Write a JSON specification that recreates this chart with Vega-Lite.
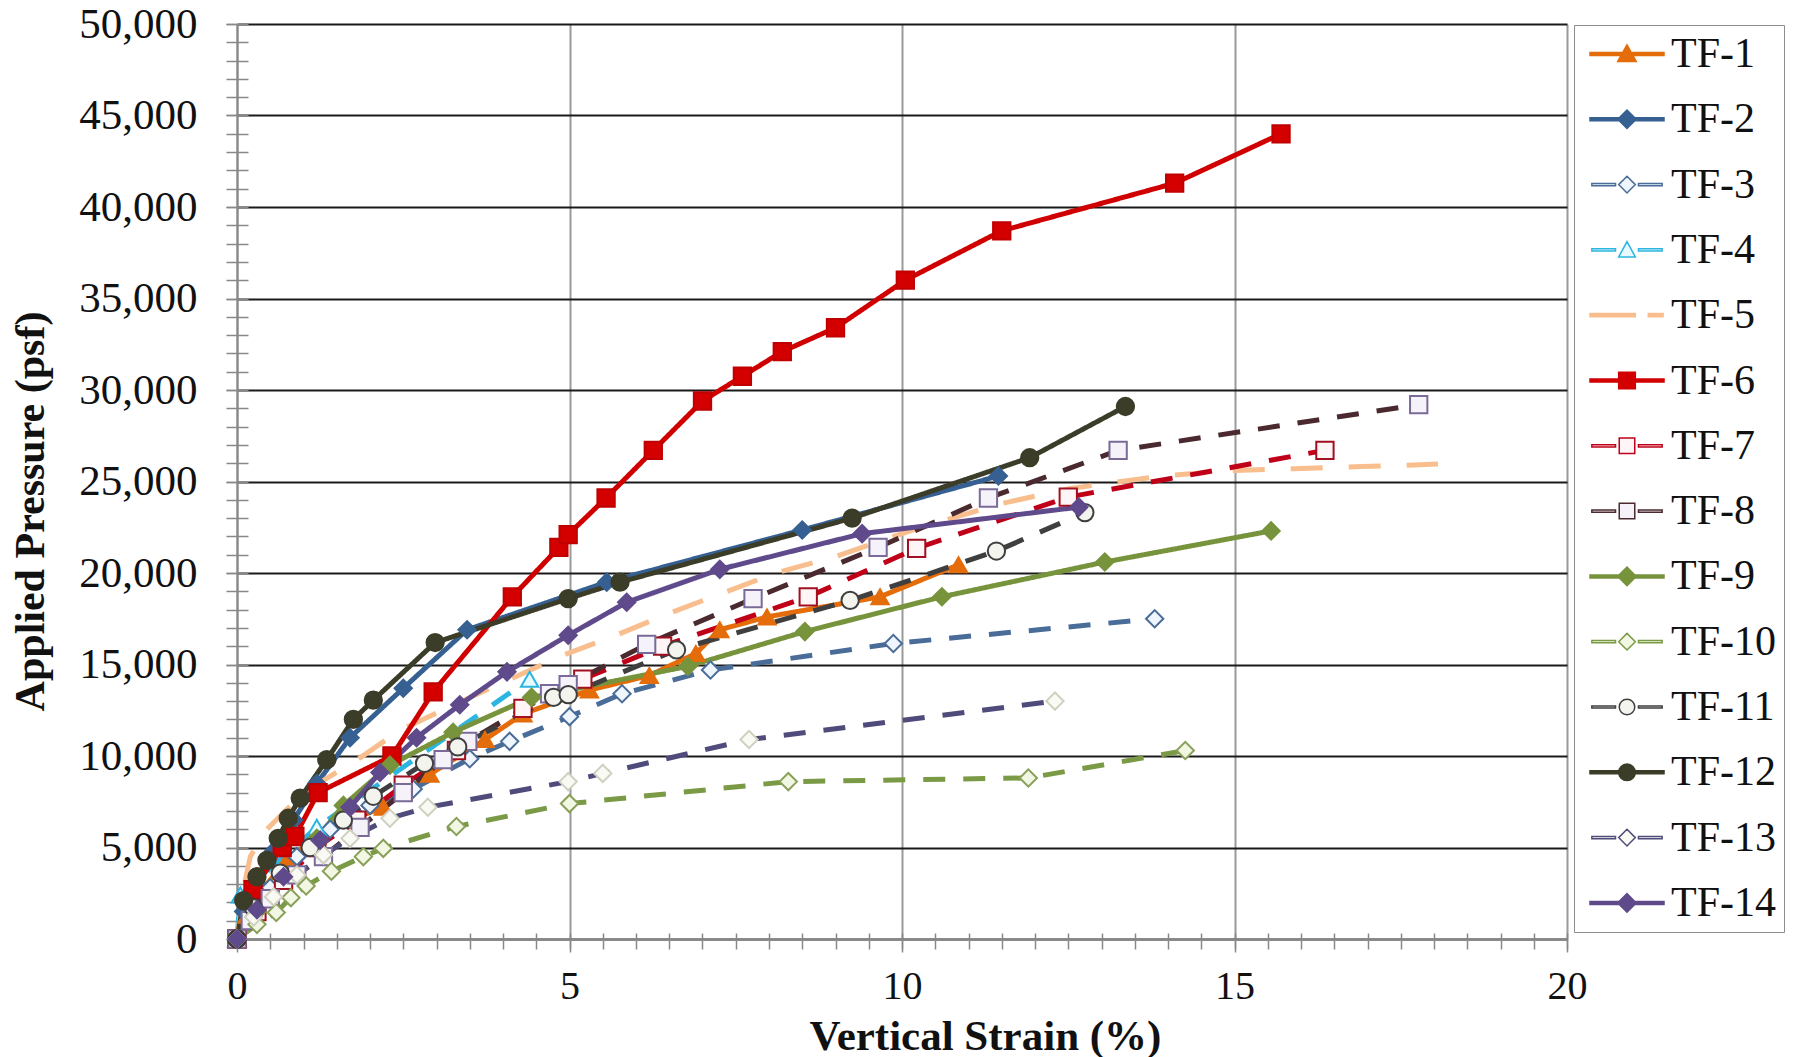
{
  "$schema": "https://vega.github.io/schema/vega-lite/v6.json",
  "width": 1330,
  "height": 915,
  "autosize": {"type": "none"},
  "padding": {"left": 237, "top": 24, "right": 237, "bottom": 118},
  "background": "white",
  "data": {"values": [
    {"series":"TF-1","strain":0,"pressure":0},{"series":"TF-1","strain":0.15,"pressure":1300},{"series":"TF-1","strain":0.4,"pressure":2800},{"series":"TF-1","strain":0.75,"pressure":4300},{"series":"TF-1","strain":1.2,"pressure":5600},{"series":"TF-1","strain":1.7,"pressure":6500},{"series":"TF-1","strain":2.2,"pressure":7200},{"series":"TF-1","strain":2.9,"pressure":9000},{"series":"TF-1","strain":3.73,"pressure":10900},{"series":"TF-1","strain":4.3,"pressure":12300},{"series":"TF-1","strain":5.3,"pressure":13600},{"series":"TF-1","strain":6.2,"pressure":14400},{"series":"TF-1","strain":6.9,"pressure":15600},{"series":"TF-1","strain":7.26,"pressure":16900},{"series":"TF-1","strain":7.97,"pressure":17600},{"series":"TF-1","strain":9.67,"pressure":18700},{"series":"TF-1","strain":10.85,"pressure":20450},
    {"series":"TF-2","strain":0,"pressure":0},{"series":"TF-2","strain":0.1,"pressure":1500},{"series":"TF-2","strain":0.3,"pressure":3000},{"series":"TF-2","strain":0.55,"pressure":4800},{"series":"TF-2","strain":0.85,"pressure":6500},{"series":"TF-2","strain":1.2,"pressure":8500},{"series":"TF-2","strain":1.7,"pressure":11000},{"series":"TF-2","strain":2.5,"pressure":13700},{"series":"TF-2","strain":3.46,"pressure":16900},{"series":"TF-2","strain":5.56,"pressure":19500},{"series":"TF-2","strain":8.5,"pressure":22350},{"series":"TF-2","strain":11.45,"pressure":25300},
    {"series":"TF-3","strain":0,"pressure":0},{"series":"TF-3","strain":0.2,"pressure":1300},{"series":"TF-3","strain":0.5,"pressure":2800},{"series":"TF-3","strain":0.9,"pressure":4500},{"series":"TF-3","strain":1.4,"pressure":6000},{"series":"TF-3","strain":2.0,"pressure":7300},{"series":"TF-3","strain":2.65,"pressure":8200},{"series":"TF-3","strain":3.5,"pressure":9850},{"series":"TF-3","strain":4.1,"pressure":10800},{"series":"TF-3","strain":5.0,"pressure":12150},{"series":"TF-3","strain":5.79,"pressure":13400},{"series":"TF-3","strain":7.12,"pressure":14700},{"series":"TF-3","strain":9.87,"pressure":16150},{"series":"TF-3","strain":13.8,"pressure":17500},
    {"series":"TF-4","strain":0,"pressure":0},{"series":"TF-4","strain":0.05,"pressure":2400},{"series":"TF-4","strain":1.2,"pressure":6100},{"series":"TF-4","strain":4.4,"pressure":14200},
    {"series":"TF-5","strain":0,"pressure":0},{"series":"TF-5","strain":0.1,"pressure":2800},{"series":"TF-5","strain":0.2,"pressure":4500},{"series":"TF-5","strain":0.45,"pressure":6000},{"series":"TF-5","strain":1.0,"pressure":8000},{"series":"TF-5","strain":1.85,"pressure":9900},{"series":"TF-5","strain":2.45,"pressure":11400},{"series":"TF-5","strain":3.5,"pressure":13200},{"series":"TF-5","strain":4.9,"pressure":15500},{"series":"TF-5","strain":5.7,"pressure":16600},{"series":"TF-5","strain":6.5,"pressure":17800},{"series":"TF-5","strain":7.3,"pressure":18900},{"series":"TF-5","strain":8.1,"pressure":20000},{"series":"TF-5","strain":9.0,"pressure":20900},{"series":"TF-5","strain":10.2,"pressure":22400},{"series":"TF-5","strain":11.5,"pressure":23800},{"series":"TF-5","strain":12.5,"pressure":24600},{"series":"TF-5","strain":13.9,"pressure":25300},{"series":"TF-5","strain":15.0,"pressure":25600},{"series":"TF-5","strain":15.9,"pressure":25700},{"series":"TF-5","strain":16.8,"pressure":25800},{"series":"TF-5","strain":17.7,"pressure":25900},{"series":"TF-5","strain":18.06,"pressure":25950},
    {"series":"TF-6","strain":0,"pressure":0},{"series":"TF-6","strain":0.24,"pressure":2700},{"series":"TF-6","strain":0.68,"pressure":5000},{"series":"TF-6","strain":0.87,"pressure":5600},{"series":"TF-6","strain":1.22,"pressure":8000},{"series":"TF-6","strain":2.33,"pressure":10000},{"series":"TF-6","strain":2.95,"pressure":13500},{"series":"TF-6","strain":4.14,"pressure":18700},{"series":"TF-6","strain":4.84,"pressure":21400},{"series":"TF-6","strain":4.98,"pressure":22100},{"series":"TF-6","strain":5.55,"pressure":24100},{"series":"TF-6","strain":6.26,"pressure":26700},{"series":"TF-6","strain":7.0,"pressure":29400},{"series":"TF-6","strain":7.6,"pressure":30750},{"series":"TF-6","strain":8.2,"pressure":32100},{"series":"TF-6","strain":9.0,"pressure":33400},{"series":"TF-6","strain":10.05,"pressure":36000},{"series":"TF-6","strain":11.5,"pressure":38700},{"series":"TF-6","strain":14.1,"pressure":41300},{"series":"TF-6","strain":15.7,"pressure":44000},
    {"series":"TF-7","strain":0,"pressure":0},{"series":"TF-7","strain":0.3,"pressure":1500},{"series":"TF-7","strain":0.7,"pressure":3200},{"series":"TF-7","strain":1.2,"pressure":5000},{"series":"TF-7","strain":1.8,"pressure":6500},{"series":"TF-7","strain":2.5,"pressure":8400},{"series":"TF-7","strain":3.3,"pressure":10300},{"series":"TF-7","strain":4.3,"pressure":12600},{"series":"TF-7","strain":5.2,"pressure":14200},{"series":"TF-7","strain":6.4,"pressure":16000},{"series":"TF-7","strain":8.59,"pressure":18700},{"series":"TF-7","strain":10.22,"pressure":21350},{"series":"TF-7","strain":12.5,"pressure":24150},{"series":"TF-7","strain":16.36,"pressure":26700},
    {"series":"TF-8","strain":0,"pressure":0},{"series":"TF-8","strain":0.2,"pressure":1000},{"series":"TF-8","strain":0.5,"pressure":2200},{"series":"TF-8","strain":0.9,"pressure":3500},{"series":"TF-8","strain":1.3,"pressure":4500},{"series":"TF-8","strain":1.85,"pressure":6100},{"series":"TF-8","strain":2.5,"pressure":8000},{"series":"TF-8","strain":3.1,"pressure":9800},{"series":"TF-8","strain":3.47,"pressure":10800},{"series":"TF-8","strain":4.7,"pressure":13400},{"series":"TF-8","strain":4.98,"pressure":13900},{"series":"TF-8","strain":6.16,"pressure":16100},{"series":"TF-8","strain":7.76,"pressure":18600},{"series":"TF-8","strain":9.64,"pressure":21400},{"series":"TF-8","strain":11.3,"pressure":24100},{"series":"TF-8","strain":13.25,"pressure":26700},{"series":"TF-8","strain":17.77,"pressure":29200},
    {"series":"TF-9","strain":0,"pressure":0},{"series":"TF-9","strain":0.3,"pressure":1500},{"series":"TF-9","strain":0.7,"pressure":3500},{"series":"TF-9","strain":1.2,"pressure":5500},{"series":"TF-9","strain":1.6,"pressure":7300},{"series":"TF-9","strain":2.3,"pressure":9500},{"series":"TF-9","strain":3.25,"pressure":11300},{"series":"TF-9","strain":4.43,"pressure":13200},{"series":"TF-9","strain":6.78,"pressure":14900},{"series":"TF-9","strain":8.54,"pressure":16800},{"series":"TF-9","strain":10.6,"pressure":18700},{"series":"TF-9","strain":13.05,"pressure":20600},{"series":"TF-9","strain":15.55,"pressure":22300},
    {"series":"TF-10","strain":0,"pressure":0},{"series":"TF-10","strain":0.3,"pressure":800},{"series":"TF-10","strain":0.59,"pressure":1450},{"series":"TF-10","strain":0.81,"pressure":2260},{"series":"TF-10","strain":1.04,"pressure":2900},{"series":"TF-10","strain":1.42,"pressure":3700},{"series":"TF-10","strain":1.9,"pressure":4500},{"series":"TF-10","strain":2.2,"pressure":4950},{"series":"TF-10","strain":3.3,"pressure":6150},{"series":"TF-10","strain":5.0,"pressure":7400},{"series":"TF-10","strain":8.29,"pressure":8600},{"series":"TF-10","strain":11.9,"pressure":8800},{"series":"TF-10","strain":14.26,"pressure":10300},
    {"series":"TF-11","strain":0,"pressure":0},{"series":"TF-11","strain":0.25,"pressure":1700},{"series":"TF-11","strain":0.65,"pressure":3600},{"series":"TF-11","strain":1.1,"pressure":5000},{"series":"TF-11","strain":1.6,"pressure":6500},{"series":"TF-11","strain":2.05,"pressure":7800},{"series":"TF-11","strain":2.82,"pressure":9600},{"series":"TF-11","strain":3.32,"pressure":10500},{"series":"TF-11","strain":4.76,"pressure":13200},{"series":"TF-11","strain":4.98,"pressure":13350},{"series":"TF-11","strain":6.61,"pressure":15800},{"series":"TF-11","strain":9.22,"pressure":18500},{"series":"TF-11","strain":11.42,"pressure":21200},{"series":"TF-11","strain":12.75,"pressure":23300},
    {"series":"TF-12","strain":0,"pressure":0},{"series":"TF-12","strain":0.1,"pressure":2100},{"series":"TF-12","strain":0.3,"pressure":3400},{"series":"TF-12","strain":0.45,"pressure":4300},{"series":"TF-12","strain":0.62,"pressure":5500},{"series":"TF-12","strain":0.77,"pressure":6600},{"series":"TF-12","strain":0.95,"pressure":7700},{"series":"TF-12","strain":1.35,"pressure":9800},{"series":"TF-12","strain":1.75,"pressure":12000},{"series":"TF-12","strain":2.05,"pressure":13050},{"series":"TF-12","strain":2.98,"pressure":16200},{"series":"TF-12","strain":4.98,"pressure":18600},{"series":"TF-12","strain":5.76,"pressure":19500},{"series":"TF-12","strain":9.25,"pressure":23000},{"series":"TF-12","strain":11.92,"pressure":26300},{"series":"TF-12","strain":13.36,"pressure":29100},
    {"series":"TF-13","strain":0,"pressure":0},{"series":"TF-13","strain":0.25,"pressure":1200},{"series":"TF-13","strain":0.55,"pressure":2300},{"series":"TF-13","strain":0.9,"pressure":3500},{"series":"TF-13","strain":1.3,"pressure":4600},{"series":"TF-13","strain":1.7,"pressure":5500},{"series":"TF-13","strain":2.3,"pressure":6600},{"series":"TF-13","strain":2.87,"pressure":7200},{"series":"TF-13","strain":4.98,"pressure":8600},{"series":"TF-13","strain":5.5,"pressure":9050},{"series":"TF-13","strain":7.7,"pressure":10900},{"series":"TF-13","strain":12.3,"pressure":13000},
    {"series":"TF-14","strain":0,"pressure":0},{"series":"TF-14","strain":0.3,"pressure":1600},{"series":"TF-14","strain":0.7,"pressure":3400},{"series":"TF-14","strain":1.25,"pressure":5400},{"series":"TF-14","strain":1.7,"pressure":7200},{"series":"TF-14","strain":2.15,"pressure":9100},{"series":"TF-14","strain":2.7,"pressure":11000},{"series":"TF-14","strain":3.35,"pressure":12800},{"series":"TF-14","strain":4.06,"pressure":14600},{"series":"TF-14","strain":4.98,"pressure":16600},{"series":"TF-14","strain":5.86,"pressure":18400},{"series":"TF-14","strain":7.26,"pressure":20200},{"series":"TF-14","strain":9.4,"pressure":22150},{"series":"TF-14","strain":12.66,"pressure":23600}
  ]},
  "resolve": {
    "axis": {"x": "independent", "y": "independent"},
    "scale": {"fill": "independent", "stroke": "independent", "shape": "independent"}
  },
  "layer": [
    {
      "mark": {"type": "line", "strokeWidth": 5, "strokeCap": "butt", "strokeJoin": "round"},
      "encoding": {
        "x": {"field": "strain", "type": "quantitative", "scale": {"domain": [0, 20], "nice": false, "zero": false},
          "axis": {"orient": "bottom", "values": [0, 5, 10, 15, 20], "title": "Vertical Strain (%)",
            "titleFont": "Liberation Serif", "titleFontWeight": "bold", "titleFontSize": 43, "titleColor": "#111",
            "titleX": 748, "titleY": 110, "titleBaseline": "alphabetic", "titleAlign": "center",
            "labelFont": "Liberation Serif", "labelFontSize": 40, "labelColor": "#111", "labelBaseline": "alphabetic",
            "labelPadding": 46, "labelFlush": false, "tickSize": 13, "tickColor": "#888", "tickWidth": 1.5,
            "domainColor": "#888", "domainWidth": 2, "grid": true, "gridColor": "#9a9a9a", "gridWidth": 2}},
        "y": {"field": "pressure", "type": "quantitative", "scale": {"domain": [0, 50000], "nice": false},
          "axis": {"orient": "left", "values": [0, 5000, 10000, 15000, 20000, 25000, 30000, 35000, 40000, 45000, 50000], "format": ",.0f",
            "title": "Applied Pressure (psf)", "titleFont": "Liberation Serif", "titleFontWeight": "bold", "titleFontSize": 42,
            "titleColor": "#111", "titleAngle": 270, "titleX": -194, "titleY": 487, "titleBaseline": "alphabetic", "titleAlign": "center",
            "labelFont": "Liberation Serif", "labelFontSize": 43, "labelColor": "#111", "labelBaseline": "middle", "labelPadding": 29,
            "tickSize": 11, "tickColor": "#888", "tickWidth": 1.5, "domainColor": "#888", "domainWidth": 2,
            "grid": true, "gridColor": "#1a1a1a", "gridWidth": 2}},
        "color": {"field": "series", "type": "nominal", "legend": null,
          "scale": {"domain": ["TF-1","TF-2","TF-3","TF-4","TF-5","TF-6","TF-7","TF-8","TF-9","TF-10","TF-11","TF-12","TF-13","TF-14"],
            "range": ["#E46C0A","#376092","#4A6C98","#2CB5E0","#F9BE8E","#D00000","#C00018","#4A2A2E","#77933C","#7A9A45","#3F3F3F","#3B3D29","#4F4B7A","#5F4A8B"]}},
        "strokeDash": {"field": "series", "type": "nominal", "legend": null,
          "scale": {"domain": ["TF-1","TF-2","TF-3","TF-4","TF-5","TF-6","TF-7","TF-8","TF-9","TF-10","TF-11","TF-12","TF-13","TF-14"],
            "range": [[1,0],[1,0],[22,18],[22,18],[32,26],[1,0],[22,18],[22,18],[1,0],[22,18],[22,18],[1,0],[22,18],[1,0]]}}
      }
    },
    {
      "transform": [{"filter": "datum.series !== 'TF-5'"}],
      "mark": {"type": "point", "filled": true, "opacity": 1, "strokeWidth": 2},
      "encoding": {
        "x": {"field": "strain", "type": "quantitative", "scale": {"domain": [0, 20], "nice": false, "zero": false}, "axis": null},
        "y": {"field": "pressure", "type": "quantitative", "scale": {"domain": [0, 50000], "nice": false}, "axis": null},
        "fill": {"field": "series", "type": "nominal", "legend": null,
          "scale": {"domain": ["TF-1","TF-2","TF-3","TF-4","TF-5","TF-6","TF-7","TF-8","TF-9","TF-10","TF-11","TF-12","TF-13","TF-14"],
            "range": ["#E46C0A","#376092","#EEF5FC","#E6FAFF","#F9BE8E","#D40000","#FFF4F6","#F6F2FA","#77933C","#F2F7E4","#F4F4EE","#3B3D29","#FAFAF4","#5F4A8B"]}},
        "stroke": {"field": "series", "type": "nominal", "legend": null,
          "scale": {"domain": ["TF-1","TF-2","TF-3","TF-4","TF-5","TF-6","TF-7","TF-8","TF-9","TF-10","TF-11","TF-12","TF-13","TF-14"],
            "range": ["#E46C0A","#376092","#4A6C98","#2CB5E0","#F9BE8E","#C00000","#A01020","#7A6A98","#77933C","#8AA05A","#3F3F3F","#3B3D29","#D0D0C0","#5F4A8B"]}},
        "shape": {"field": "series", "type": "nominal", "legend": null,
          "scale": {"domain": ["TF-1","TF-2","TF-3","TF-4","TF-5","TF-6","TF-7","TF-8","TF-9","TF-10","TF-11","TF-12","TF-13","TF-14"],
            "range": ["triangle-up","diamond","diamond","triangle-up","circle","square","square","square","diamond","diamond","circle","circle","diamond","diamond"]}},
        "size": {"field": "series", "type": "nominal", "legend": null,
          "scale": {"domain": ["TF-1","TF-2","TF-3","TF-4","TF-5","TF-6","TF-7","TF-8","TF-9","TF-10","TF-11","TF-12","TF-13","TF-14"],
            "range": [300,300,280,300,0,400,380,380,300,280,320,340,280,300]}}
      }
    },
    {
      "transform": [{"filter": "false"}],
      "mark": {"type": "point", "filled": true, "opacity": 1, "strokeWidth": 1.5, "size": 1369},
      "encoding": {
        "x": {"field": "strain", "type": "quantitative", "scale": {"domain": [0, 20], "nice": false, "zero": false},
          "axis": {"orient": "bottom", "values": [0,0.5,1,1.5,2,2.5,3,3.5,4,4.5,5,5.5,6,6.5,7,7.5,8,8.5,9,9.5,10,10.5,11,11.5,12,12.5,13,13.5,14,14.5,15,15.5,16,16.5,17,17.5,18,18.5,19,19.5,20],
            "labels": false, "domain": false, "grid": false, "title": null, "tickSize": 16, "offset": -6, "tickColor": "#888", "tickWidth": 1.5}},
        "y": {"field": "pressure", "type": "quantitative", "scale": {"domain": [0, 50000], "nice": false},
          "axis": {"orient": "left", "values": [0,1000,2000,3000,4000,5000,6000,7000,8000,9000,10000,11000,12000,13000,14000,15000,16000,17000,18000,19000,20000,21000,22000,23000,24000,25000,26000,27000,28000,29000,30000,31000,32000,33000,34000,35000,36000,37000,38000,39000,40000,41000,42000,43000,44000,45000,46000,47000,48000,49000,50000],
            "labels": false, "domain": false, "grid": false, "title": null, "tickSize": 22, "offset": -11, "tickColor": "#888", "tickWidth": 1.5}},
        "fill": {"field": "series", "type": "nominal",
          "legend": {"title": null, "orient": "none", "legendX": 1337, "legendY": 1, "padding": 8, "strokeColor": "#8c8c8c", "fillColor": "white",
            "labelFont": "Liberation Serif", "labelFontSize": 42, "labelColor": "#111", "symbolSize": 1369, "symbolOffset": 24,
            "labelOffset": 23, "rowPadding": 23.3, "labelLimit": 300, "symbolStrokeWidth": 1.5},
          "scale": {"domain": ["TF-1","TF-2","TF-3","TF-4","TF-5","TF-6","TF-7","TF-8","TF-9","TF-10","TF-11","TF-12","TF-13","TF-14"],
            "range": ["#E46C0A","#376092","#EEF5FC","#E6FAFF","#F9BE8E","#D40000","#FFF4F6","#F6F2FA","#77933C","#F2F7E4","#F4F4EE","#3B3D29","#FAFAF4","#5F4A8B"]}},
        "stroke": {"field": "series", "type": "nominal",
          "legend": {"title": null, "orient": "none", "legendX": 1337, "legendY": 1, "padding": 8, "strokeColor": "#8c8c8c", "fillColor": "white",
            "labelFont": "Liberation Serif", "labelFontSize": 42, "labelColor": "#111", "symbolSize": 1369, "symbolOffset": 24,
            "labelOffset": 23, "rowPadding": 23.3, "labelLimit": 300, "symbolStrokeWidth": 1.5},
          "scale": {"domain": ["TF-1","TF-2","TF-3","TF-4","TF-5","TF-6","TF-7","TF-8","TF-9","TF-10","TF-11","TF-12","TF-13","TF-14"],
            "range": ["#E46C0A","#376092","#4A6C98","#2CB5E0","#F9BE8E","#D00000","#C00018","#4A2A2E","#77933C","#7A9A45","#3F3F3F","#3B3D29","#4F4B7A","#5F4A8B"]}},
        "shape": {"field": "series", "type": "nominal",
          "legend": {"title": null, "orient": "none", "legendX": 1337, "legendY": 1, "padding": 8, "strokeColor": "#8c8c8c", "fillColor": "white",
            "labelFont": "Liberation Serif", "labelFontSize": 42, "labelColor": "#111", "symbolSize": 1369, "symbolOffset": 24,
            "labelOffset": 23, "rowPadding": 23.3, "labelLimit": 300, "symbolStrokeWidth": 1.5},
          "scale": {"domain": ["TF-1","TF-2","TF-3","TF-4","TF-5","TF-6","TF-7","TF-8","TF-9","TF-10","TF-11","TF-12","TF-13","TF-14"],
            "range": [
              "M-2,-0.08H2V0.08H-2Z M-0.5,0.4L0,-0.5L0.5,0.4Z",
              "M-2,-0.08H2V0.08H-2Z M-0.5,0L0,-0.5L0.5,0L0,0.5Z",
              "M-1.9,-0.06H-0.62V0.06H-1.9Z M0.62,-0.06H1.9V0.06H0.62Z M-0.45,0L0,-0.45L0.45,0L0,0.45Z",
              "M-1.9,-0.06H-0.62V0.06H-1.9Z M0.62,-0.06H1.9V0.06H0.62Z M-0.45,0.38L0,-0.45L0.45,0.38Z",
              "M-2,-0.09H0.45V0.09H-2Z M1.15,-0.09H1.95V0.09H1.15Z",
              "M-2,-0.08H2V0.08H-2Z M-0.45,-0.45H0.45V0.45H-0.45Z",
              "M-1.9,-0.06H-0.62V0.06H-1.9Z M0.62,-0.06H1.9V0.06H0.62Z M-0.42,-0.42H0.42V0.42H-0.42Z",
              "M-1.9,-0.06H-0.62V0.06H-1.9Z M0.62,-0.06H1.9V0.06H0.62Z M-0.42,-0.42H0.42V0.42H-0.42Z",
              "M-2,-0.08H2V0.08H-2Z M-0.5,0L0,-0.5L0.5,0L0,0.5Z",
              "M-1.9,-0.06H-0.62V0.06H-1.9Z M0.62,-0.06H1.9V0.06H0.62Z M-0.45,0L0,-0.45L0.45,0L0,0.45Z",
              "M-1.9,-0.06H-0.62V0.06H-1.9Z M0.62,-0.06H1.9V0.06H0.62Z M-0.42,0A0.42,0.42 0 1,1 0.42,0A0.42,0.42 0 1,1 -0.42,0Z",
              "M-2,-0.08H2V0.08H-2Z M-0.45,0A0.45,0.45 0 1,1 0.45,0A0.45,0.45 0 1,1 -0.45,0Z",
              "M-1.9,-0.06H-0.62V0.06H-1.9Z M0.62,-0.06H1.9V0.06H0.62Z M-0.45,0L0,-0.45L0.45,0L0,0.45Z",
              "M-2,-0.08H2V0.08H-2Z M-0.5,0L0,-0.5L0.5,0L0,0.5Z"
            ]}}
      }
    }
  ],
  "config": {
    "view": {"stroke": null},
    "font": "Liberation Serif"
  }
}
